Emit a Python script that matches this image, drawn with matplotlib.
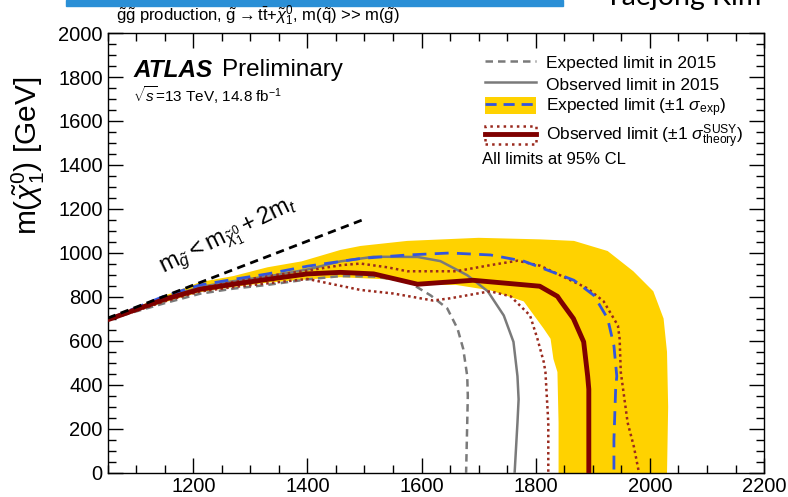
import matplotlib
matplotlib.use('Agg')
import matplotlib.pyplot as plt
from matplotlib.patches import Patch, Rectangle
from matplotlib.lines import Line2D
from matplotlib.ticker import MultipleLocator

plt.rcParams['font.family'] = ['Liberation Sans', 'DejaVu Sans']
plt.rcParams['mathtext.fontset'] = 'custom'
plt.rcParams['mathtext.rm'] = 'Liberation Sans'
plt.rcParams['mathtext.it'] = 'Liberation Sans:italic'
plt.rcParams['mathtext.bf'] = 'Liberation Sans:bold'

# gluino mass [GeV] vs neutralino mass [GeV]
exp15_x = [1054, 1150, 1212, 1270, 1330, 1400, 1458, 1516, 1575, 1616, 1645, 1663, 1673, 1680, 1681, 1680, 1678]
exp15_y = [700, 772, 815, 838, 855, 880, 895, 893, 872, 807, 748, 656, 564, 440, 350, 229, 0]

obs15_x = [1054, 1150, 1212, 1270, 1330, 1400, 1458, 1516, 1593, 1633, 1680, 1716, 1744, 1761, 1768, 1770, 1768, 1763]
obs15_y = [702, 795, 845, 872, 893, 925, 962, 983, 982, 963, 899, 826, 716, 596, 440, 335, 229, 0]

exp_x = [1054, 1150, 1212, 1270, 1330, 1400, 1493, 1575, 1650, 1721, 1779, 1844, 1867, 1902, 1926, 1937, 1942, 1940, 1937, 1937]
exp_y = [702, 805, 855, 880, 905, 940, 975, 991, 1000, 991, 963, 899, 876, 807, 702, 578, 440, 381, 151, 0]

band_up_x = [1054, 1150, 1212, 1270, 1330, 1390, 1458, 1493, 1575, 1700, 1807, 1867, 1926, 1971, 2006, 2024, 2030, 2032, 2030]
band_up_y = [705, 806, 868, 895, 935, 962, 1014, 1032, 1055, 1069, 1062, 1055, 1009, 917, 826, 702, 550, 300, 0]
band_dn_x = [1054, 1150, 1212, 1270, 1330, 1400, 1458, 1540, 1600, 1660, 1721, 1779, 1814, 1826, 1831, 1838, 1840, 1840]
band_dn_y = [696, 776, 822, 845, 865, 880, 890, 880, 855, 855, 830, 780, 656, 610, 518, 459, 229, 0]

obs_x = [1054, 1150, 1212, 1270, 1330, 1400, 1458, 1516, 1593, 1690, 1807, 1838, 1843, 1866, 1884, 1891, 1893, 1893, 1893]
obs_y = [700, 790, 835, 858, 880, 905, 912, 905, 858, 876, 849, 803, 784, 702, 596, 440, 381, 151, 0]

obs_up_x = [1054, 1150, 1212, 1270, 1330, 1400, 1460, 1493, 1540, 1575, 1660, 1721, 1768, 1808, 1891, 1919, 1944, 1947, 1949, 1961, 1972, 1981]
obs_up_y = [703, 792, 840, 868, 895, 920, 945, 952, 935, 917, 917, 945, 965, 942, 839, 780, 670, 610, 459, 229, 119, 0]

obs_dn_x = [1054, 1150, 1212, 1270, 1330, 1400, 1493, 1550, 1620, 1650, 1720, 1756, 1790, 1803, 1814, 1817, 1822, 1822]
obs_dn_y = [698, 780, 825, 845, 862, 882, 832, 816, 784, 794, 826, 803, 716, 610, 505, 459, 229, 0]

kin_x = [1050, 1500]
m_top = 173

yellow = '#FFD200'
darkred = '#7F0000'
dotred = '#9A2A1E'
grey = '#7A7A7A'
blue = '#3355DD'

fig = plt.figure(figsize=(7.88, 4.97), dpi=100)
ax = fig.add_axes([0.1366, 0.0483, 0.833, 0.8853])

ax.fill(band_up_x + band_dn_x[::-1], band_up_y + band_dn_y[::-1], color=yellow, lw=0, zorder=1)
ax.plot(exp15_x, exp15_y, color=grey, lw=1.8, dashes=(3, 2), zorder=3)
ax.plot(obs15_x, obs15_y, color=grey, lw=1.8, zorder=3)
ax.plot(obs_up_x, obs_up_y, color=dotred, lw=1.8, ls=(0, (1, 1.3)), zorder=4)
ax.plot(obs_dn_x, obs_dn_y, color=dotred, lw=1.8, ls=(0, (1, 1.3)), zorder=4)
ax.plot(exp_x, exp_y, color=blue, lw=2, dashes=(5, 3), zorder=5)
ax.plot(obs_x, obs_y, color=darkred, lw=3.5, zorder=6)
ax.plot(kin_x, [m - 2 * m_top for m in kin_x], color='black', lw=2, dashes=(3, 2), zorder=7)

ax.text(1262, 1075, r'$\mathrm{m}_{\tilde{g}} < \mathrm{m}_{\tilde{\chi}^{0}_{1}} + 2\mathrm{m}_{t}$',
        fontsize=17, rotation=26, ha='center', va='center')

ax.set_xlim(1050, 2200)
ax.set_ylim(0, 2000)
ax.xaxis.set_major_locator(MultipleLocator(200))
ax.xaxis.set_minor_locator(MultipleLocator(50))
ax.yaxis.set_major_locator(MultipleLocator(200))
ax.yaxis.set_minor_locator(MultipleLocator(50))
ax.tick_params(which='both', direction='in', top=True, right=True, labelsize=14.5, width=1)
ax.tick_params(which='major', length=11)
ax.tick_params(which='minor', length=6)
ax.tick_params(axis='x', pad=3)
for s in ax.spines.values():
    s.set_linewidth(1)

ax.set_ylabel(r'm($\tilde{\chi}^{0}_{1}$) [GeV]', fontsize=21.5)
ax.yaxis.set_label_coords(-0.092, 0.72)

ax.text(0.039, 0.915, 'ATLAS', transform=ax.transAxes, fontsize=17.5, weight='bold', style='italic', va='center')
ax.text(0.174, 0.915, 'Preliminary', transform=ax.transAxes, fontsize=17.5, va='center')
ax.text(0.039, 0.858, r'$\sqrt{s}$=13 TeV, 14.8 fb$^{-1}$', transform=ax.transAxes, fontsize=11, va='center')

handles = [
    Line2D([], [], color=grey, lw=1.8, dashes=(3, 2)),
    Line2D([], [], color=grey, lw=1.8),
    (Patch(facecolor=yellow, edgecolor='none'), Line2D([], [], color=blue, lw=2, dashes=(4, 2.5))),
    (Patch(facecolor='none', edgecolor=dotred, lw=1.8, ls=':'), Line2D([], [], color=darkred, lw=3.5)),
]
labels = [
    'Expected limit in 2015',
    'Observed limit in 2015',
    r'Expected limit ($\pm$1 $\sigma_{\mathrm{exp}}$)',
    r'Observed limit ($\pm$1 $\sigma^{\mathrm{SUSY}}_{\mathrm{theory}}$)',
]
ax.legend(handles, labels, loc='upper left', bbox_to_anchor=(0.565, 0.97), frameon=False,
          fontsize=12.5, handlelength=2.9, handleheight=1.2, labelspacing=0.22, handletextpad=0.6,
          borderaxespad=0)
ax.text(0.57, 0.712, 'All limits at 95% CL', transform=ax.transAxes, fontsize=12, va='center')

fig.text(0.147, 0.968, r'$\tilde{\mathrm{g}}\tilde{\mathrm{g}}$ production, $\tilde{\mathrm{g}} \rightarrow \mathrm{t}\bar{\mathrm{t}}$+$\tilde{\chi}^{0}_{1}$, m($\tilde{\mathrm{q}}$) >> m($\tilde{\mathrm{g}}$)',
         fontsize=12, va='center')

# bits of the slide around the plot
fig.patches.append(Rectangle((66 / 788, 1 - 6 / 497), (563 - 66) / 788, 6 / 497,
                             transform=fig.transFigure, color='#2A8FD6', zorder=0))
fig.text(605 / 788, 1 - 5 / 497, 'Taejong Kim', fontsize=20.5, family='Lato', va='baseline')

fig.savefig('out.png', dpi=100)
